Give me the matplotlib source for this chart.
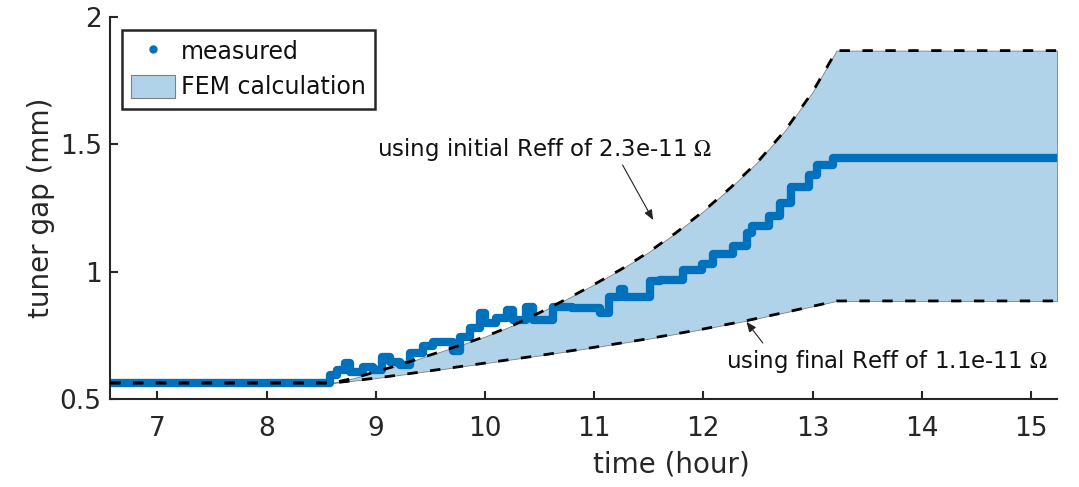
import matplotlib
matplotlib.use("Agg")
import matplotlib.pyplot as plt
from matplotlib.lines import Line2D
from matplotlib.patches import Patch
import numpy as np

# ---------------- data ----------------
# FEM upper bound (initial Reff 2.3e-11 Ohm)
upper_t = [6.565, 8.60, 8.8, 9.0, 9.25, 9.5, 9.75, 10.0, 10.25, 10.5, 10.75, 11.0,
           11.25, 11.5, 11.75, 12.0, 12.25, 12.5, 12.75, 13.0, 13.22, 15.24]
upper_v = [0.563, 0.563, 0.582, 0.607, 0.638, 0.673, 0.708, 0.745, 0.788, 0.839, 0.893, 0.950,
           1.010, 1.077, 1.153, 1.237, 1.330, 1.432, 1.555, 1.705, 1.868, 1.868]

# FEM lower bound (final Reff 1.1e-11 Ohm)
lower_t = [6.565, 8.61, 9.0, 9.5, 10.0, 10.5, 11.0, 11.5, 12.0, 12.4, 12.8, 13.22, 15.24]
lower_v = [0.563, 0.563, 0.582, 0.611, 0.641, 0.671, 0.703, 0.737, 0.775, 0.808, 0.845, 0.885, 0.885]

# measured tuner gap (step readings: start time, value)
meas_t = [6.565, 8.58, 8.64, 8.72, 8.76, 8.88, 8.97, 9.06, 9.13, 9.22, 9.31, 9.43,
          9.52, 9.71, 9.77, 9.86, 9.95, 10.0, 10.1, 10.2, 10.26, 10.38, 10.44, 10.62,
          10.8, 11.05, 11.14, 11.24, 11.27, 11.51, 11.6, 11.81, 11.99, 12.09, 12.27,
          12.4, 12.45, 12.6, 12.7, 12.8, 12.97, 13.04, 13.19, 15.24]
meas_v = [0.563, 0.594, 0.614, 0.64, 0.606, 0.626, 0.614, 0.665, 0.645, 0.633, 0.68, 0.71,
          0.724, 0.69, 0.743, 0.78, 0.837, 0.80, 0.82, 0.85, 0.81, 0.86, 0.81, 0.86,
          0.857, 0.837, 0.90, 0.93, 0.90, 0.965, 0.967, 1.006, 1.03, 1.07, 1.10,
          1.15, 1.18, 1.22, 1.27, 1.332, 1.38, 1.42, 1.446, 1.446]

xticks = [7, 8, 9, 10, 11, 12, 13, 14, 15]
yticks = [0.5, 1, 1.5, 2]
ytick_labels = ["0.5", "1", "1.5", "2"]

# ---------------- style ----------------
plt.rcParams['font.family'] = ['DejaVu Sans']
plt.rcParams['mathtext.fontset'] = 'stix'
plt.rcParams['lines.scale_dashes'] = False

dark = '#262626'
blue = '#0072BD'
fill_c = '#B1D3EA'

fig = plt.figure(figsize=(10.79, 4.87), dpi=100)
ax = fig.add_axes([0.10195, 0.1807, 0.8777, 0.7844])

# FEM band
ut = np.array(upper_t); uv = np.array(upper_v)
lt = np.array(lower_t); lv = np.array(lower_v)
grid = np.union1d(ut, lt)
ax.fill_between(grid, np.interp(grid, lt, lv), np.interp(grid, ut, uv),
                facecolor=fill_c, edgecolor='#7f7f7f', linewidth=0.6, zorder=1)

# measured
ax.plot(meas_t, meas_v, drawstyle='steps-post', color=blue, linewidth=6.0,
        solid_capstyle='round', solid_joinstyle='round', zorder=2)

# dashed bounds
ax.plot(upper_t, upper_v, color='black', linewidth=2.0, dashes=(7.5, 9.0), zorder=3)
ax.plot(lower_t, lower_v, color='black', linewidth=2.0, dashes=(7.5, 9.0), zorder=3)

ax.set_xlim(6.565, 15.24)
ax.set_ylim(0.5, 2)
ax.set_xticks(xticks)
ax.set_yticks(yticks)
ax.set_yticklabels(ytick_labels)

for s in ['top', 'right']:
    ax.spines[s].set_visible(False)
for s in ['left', 'bottom']:
    ax.spines[s].set_color(dark)
    ax.spines[s].set_linewidth(1.5)

ax.tick_params(axis='both', direction='in', length=6, width=1.5, colors=dark,
               labelsize=19)
ax.tick_params(axis='x', pad=12)
ax.tick_params(axis='y', pad=6)

ax.set_xlabel('time (hour)', fontsize=20, color=dark)
ax.set_ylabel('tuner gap (mm)', fontsize=20, color=dark)
ax.xaxis.set_label_coords(0.593, -0.135)
ax.yaxis.set_label_coords(-0.058, 0.5)

arrow_kw = dict(arrowstyle='-|>,head_length=0.6,head_width=0.25',
                color='#222222', lw=0.8, shrinkA=0, shrinkB=0)

# annotations
ax.text(9.01, 1.478, r'using initial Reff of 2.3e-11 $\Omega$', fontsize=16.5,
        color='#111111', va='center', ha='left', zorder=5)
ax.annotate('', xy=(11.54, 1.203), xytext=(11.26, 1.419), arrowprops=arrow_kw, zorder=5)
ax.text(12.21, 0.646, r'using final Reff of 1.1e-11 $\Omega$', fontsize=16.5,
        color='#111111', va='center', ha='left', zorder=5)
ax.annotate('', xy=(12.395, 0.803), xytext=(12.545, 0.72), arrowprops=arrow_kw, zorder=5)

# legend
handles = [Line2D([], [], marker='o', color=blue, ls='none', markersize=5),
           Patch(facecolor=fill_c, edgecolor='#7f7f7f', linewidth=0.8)]
leg = ax.legend(handles, ['measured', 'FEM calculation'], loc='upper left',
                bbox_to_anchor=(0.0127, 0.966), borderaxespad=0, frameon=True,
                fancybox=False, edgecolor=dark, framealpha=1, fontsize=17,
                handlelength=1.85, handleheight=1.15, handletextpad=0.25,
                borderpad=0.4, labelspacing=0.45, numpoints=1)
leg.get_frame().set_linewidth(1.8)
for t in leg.get_texts():
    t.set_color('#111111')

fig.savefig('out.png', dpi=100)
